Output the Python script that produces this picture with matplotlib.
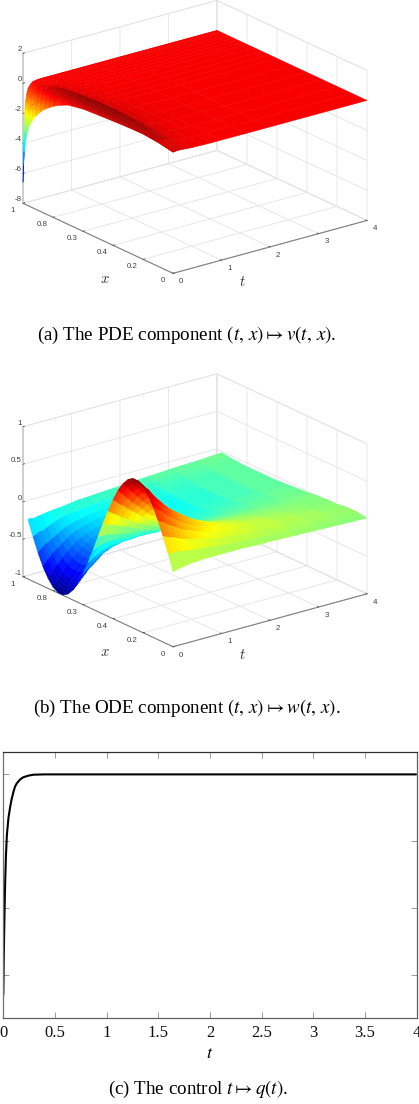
import numpy as np
import matplotlib
matplotlib.use("Agg")
import matplotlib.pyplot as plt
from matplotlib.colors import LinearSegmentedColormap
from mpl_toolkits.mplot3d import proj3d

plt.rcParams['font.family'] = ['Liberation Sans', 'DejaVu Sans']
plt.rcParams['mathtext.fontset'] = 'stix'

W, H = 419, 1104

# ---------- data ----------
t_ticks = [0, 1, 2, 3, 4]
x_ticks = [0, 0.2, 0.4, 0.6, 0.8, 1]
x_tick_labels = ['0', '0.2', '0.4', '0.3', '0.8', '1']
v_z_ticks = [-8, -6, -4, -2, 0, 2]
w_z_ticks = [-1, -0.5, 0, 0.5, 1]
w_z_labels = ['-1', '-0.5', '0', '0.5', '1']

v_t = [0, .005, .01, .015, .02, .03, .04, .05, .07, .1, .15, .2, .3, .4, .6, .8, 1, 1.5, 2, 4]
v_x = [0, .1, .2, .3, .4, .5, .6, .65, .7, .75, .8, .83, .86, .89, .92, .94, .96, .97, .98, .99, .995, 1]
v_vals = [
 [.07,.25,.35,.33,.28,.22,.15,.05,-.05,-.3,-.6,-.85,-1.1,-1.45,-1.85,-2.25,-2.7,-3.1,-3.6,-4.5,-5.3,-6.6],
 [.08,.27,.38,.37,.33,.28,.21,.12,.03,-.18,-.45,-.68,-.92,-1.22,-1.6,-1.95,-2.35,-2.7,-3.15,-3.95,-4.6,-5.5],
 [.08,.3,.41,.42,.4,.36,.29,.2,.12,-.05,-.3,-.5,-.72,-1,-1.35,-1.65,-2,-2.3,-2.7,-3.3,-3.85,-4.6],
 [.09,.33,.45,.47,.46,.43,.36,.28,.2,.05,-.17,-.35,-.56,-.82,-1.12,-1.4,-1.7,-1.95,-2.3,-2.8,-3.25,-3.8],
 [.09,.35,.48,.51,.52,.5,.43,.35,.27,.14,-.05,-.22,-.42,-.65,-.93,-1.18,-1.45,-1.67,-1.95,-2.4,-2.75,-3.1],
 [.1,.38,.53,.58,.6,.58,.52,.45,.38,.28,.12,-.02,-.2,-.4,-.63,-.85,-1.07,-1.25,-1.45,-1.8,-2.05,-2.15],
 [.1,.4,.56,.63,.66,.65,.6,.54,.47,.38,.25,.12,-.03,-.2,-.42,-.6,-.8,-.94,-1.1,-1.35,-1.55,-1.65],
 [.1,.41,.58,.67,.7,.7,.65,.6,.54,.45,.33,.22,.08,-.07,-.27,-.43,-.6,-.72,-.85,-1.05,-1.2,-1.3],
 [.1,.41,.6,.7,.75,.76,.72,.67,.62,.54,.44,.34,.22,.1,-.08,-.22,-.36,-.46,-.56,-.7,-.8,-.85],
 [.1,.4,.58,.7,.75,.78,.74,.69,.65,.58,.48,.38,.28,.17,.04,-.06,-.17,-.23,-.3,-.37,-.42,-.45],
 [.1,.35,.5,.62,.68,.72,.68,.63,.59,.53,.44,.36,.27,.17,.07,.01,-.05,-.08,-.12,-.16,-.18,-.2],
 [.09,.28,.42,.52,.58,.6,.57,.53,.49,.44,.37,.3,.23,.15,.07,.03,0,-.01,-.03,-.05,-.06,-.07],
 [.06,.18,.28,.35,.39,.4,.38,.36,.33,.29,.25,.21,.16,.11,.06,.03,.01,0,0,-.01,-.01,-.01],
 [.04,.12,.17,.22,.25,.25,.24,.23,.21,.18,.15,.13,.1,.07,.04,.02,.01,0,0,0,0,0],
 [.02,.05,.08,.1,.1,.1,.1,.09,.08,.07,.06,.05,.04,.03,.02,.01,0,0,0,0,0,0],
 [.01,.03,.05,.06,.06,.06,.06,.05,.05,.04,.03,.03,.02,.02,.01,0,0,0,0,0,0,0],
 [.01,.02,.03,.04,.05,.05,.04,.04,.03,.03,.02,.02,.01,.01,0,0,0,0,0,0,0,0],
 [0,.01,.02,.02,.02,.02,.02,.02,.01,.01,.01,.01,0,0,0,0,0,0,0,0,0,0],
 [0,0,0,0,0,0,0,0,0,0,0,0,0,0,0,0,0,0,0,0,0,0],
 [0,0,0,0,0,0,0,0,0,0,0,0,0,0,0,0,0,0,0,0,0,0],
]

w_t = [0, .03, .06, .1, .15, .2, .3, .4, .5, .6, .7, .8, .9, 1, 1.15, 1.3, 1.5, 1.75, 2, 2.5, 3, 3.5, 4]
w_x = [0, .033, .067, .1, .133, .167, .2, .233, .267, .3, .333, .367, .4, .433, .467, .5,
       .533, .567, .6, .633, .667, .7, .733, .767, .8, .833, .867, .9, .933, .967]
w_vals = [
 [0,.208,.407,.588,.743,.866,.951,.995,.995,.951,.866,.743,.588,.407,.208,0,-.208,-.407,-.588,-.743,-.866,-.951,-.995,-.995,-.951,-.866,-.743,-.588,-.407,-.208],
 [.005,.205,.4,.575,.725,.845,.925,.97,.97,.925,.84,.72,.57,.395,.2,0,-.2,-.395,-.57,-.72,-.84,-.925,-.965,-.965,-.925,-.84,-.72,-.57,-.395,-.2],
 [.01,.2,.39,.56,.705,.82,.9,.945,.945,.9,.815,.7,.555,.38,.195,0,-.195,-.385,-.555,-.7,-.815,-.895,-.935,-.935,-.895,-.815,-.7,-.555,-.39,-.205],
 [.02,.2,.38,.55,.68,.79,.87,.915,.91,.87,.79,.68,.53,.36,.18,0,-.18,-.36,-.53,-.67,-.78,-.85,-.895,-.895,-.855,-.78,-.67,-.53,-.37,-.21],
 [.025,.2,.37,.53,.66,.76,.83,.875,.87,.83,.75,.64,.5,.34,.17,0,-.17,-.34,-.5,-.64,-.75,-.82,-.855,-.855,-.82,-.74,-.64,-.5,-.36,-.21],
 [.03,.2,.36,.5,.63,.73,.8,.845,.84,.8,.71,.6,.48,.32,.16,0,-.16,-.32,-.47,-.6,-.71,-.78,-.815,-.815,-.78,-.71,-.6,-.49,-.36,-.2],
 [.04,.19,.33,.46,.57,.66,.72,.755,.75,.72,.64,.53,.42,.27,.13,-.02,-.15,-.29,-.42,-.55,-.64,-.7,-.735,-.735,-.7,-.64,-.55,-.45,-.33,-.19],
 [.05,.18,.3,.42,.52,.6,.65,.675,.67,.64,.56,.47,.37,.23,.1,-.04,-.15,-.27,-.38,-.5,-.57,-.63,-.665,-.665,-.63,-.58,-.5,-.41,-.3,-.18],
 [.05,.17,.28,.38,.47,.54,.58,.6,.59,.57,.5,.41,.32,.19,.08,-.05,-.15,-.25,-.34,-.44,-.52,-.56,-.595,-.595,-.57,-.52,-.45,-.37,-.27,-.17],
 [.06,.16,.26,.35,.42,.48,.52,.53,.52,.49,.42,.34,.26,.14,.05,-.06,-.16,-.25,-.33,-.41,-.47,-.52,-.54,-.54,-.52,-.47,-.41,-.34,-.25,-.165],
 [.06,.16,.25,.33,.39,.44,.47,.48,.47,.44,.37,.29,.21,.11,.02,-.07,-.17,-.25,-.32,-.38,-.44,-.48,-.5,-.5,-.48,-.44,-.38,-.32,-.24,-.16],
 [.06,.15,.24,.3,.36,.4,.43,.43,.41,.39,.32,.24,.17,.08,-.01,-.08,-.17,-.25,-.3,-.36,-.41,-.44,-.46,-.46,-.44,-.41,-.36,-.3,-.23,-.15],
 [.06,.14,.22,.28,.33,.36,.385,.38,.36,.34,.27,.2,.13,.05,-.03,-.09,-.18,-.25,-.29,-.34,-.385,-.415,-.435,-.435,-.415,-.385,-.34,-.29,-.22,-.14],
 [.06,.13,.2,.26,.3,.335,.34,.33,.31,.29,.23,.16,.09,.03,-.05,-.1,-.18,-.24,-.28,-.33,-.37,-.39,-.41,-.41,-.39,-.36,-.32,-.27,-.21,-.13],
 [.06,.12,.18,.23,.27,.29,.29,.27,.25,.23,.17,.11,.06,0,-.07,-.12,-.19,-.24,-.28,-.31,-.35,-.37,-.38,-.38,-.37,-.34,-.3,-.26,-.2,-.125],
 [.06,.115,.17,.215,.24,.25,.245,.23,.2,.18,.13,.08,.04,-.02,-.09,-.14,-.2,-.24,-.27,-.3,-.33,-.345,-.355,-.355,-.345,-.32,-.29,-.25,-.19,-.12],
 [.06,.11,.16,.19,.21,.205,.19,.17,.14,.12,.08,.04,0,-.05,-.11,-.15,-.19,-.23,-.26,-.28,-.3,-.315,-.32,-.32,-.31,-.29,-.27,-.23,-.18,-.11],
 [.05,.1,.14,.17,.18,.175,.16,.14,.1,.08,.05,0,-.03,-.07,-.12,-.15,-.19,-.21,-.24,-.26,-.27,-.28,-.28,-.28,-.27,-.26,-.24,-.2,-.16,-.1],
 [.05,.09,.13,.15,.15,.145,.13,.11,.08,.06,.03,-.01,-.04,-.07,-.11,-.14,-.17,-.19,-.21,-.23,-.24,-.25,-.25,-.25,-.24,-.23,-.21,-.18,-.14,-.09],
 [.04,.07,.1,.11,.11,.105,.09,.07,.05,.03,.01,-.02,-.05,-.07,-.1,-.12,-.14,-.15,-.17,-.18,-.19,-.19,-.19,-.19,-.18,-.17,-.16,-.14,-.11,-.07],
 [.03,.05,.07,.08,.08,.075,.06,.05,.03,.02,0,-.02,-.04,-.06,-.08,-.09,-.1,-.12,-.13,-.13,-.14,-.14,-.14,-.14,-.14,-.13,-.12,-.1,-.08,-.05],
 [.02,.035,.05,.05,.05,.045,.035,.02,.02,.01,0,-.02,-.03,-.04,-.05,-.06,-.07,-.08,-.09,-.09,-.09,-.09,-.09,-.09,-.09,-.085,-.08,-.07,-.055,-.04],
 [.01,.02,.03,.03,.03,.02,.01,.01,.01,0,0,-.01,-.02,-.02,-.03,-.03,-.04,-.04,-.05,-.05,-.05,-.05,-.05,-.05,-.05,-.05,-.04,-.04,-.03,-.02],
]

q_t = [0,.004,.008,.012,.016,.02,.026,.035,.05,.065,.08,.1,.113,.13,.16,.19,.24,.29,.4,.6,1,2,4]
q_v = [-6.6,-5.6,-4.8,-4.1,-3.5,-3.0,-2.4,-1.8,-1.3,-1,-.75,-.5,-.37,-.27,-.16,-.09,-.04,-.01,0,0,0,0,0]
q_xticks = [0, .5, 1, 1.5, 2, 2.5, 3, 3.5, 4]
q_xlabels = ['0', '0.5', '1', '1.5', '2', '2.5', '3', '3.5', '4']
q_yticks = [-6, -4, -2, 0]

captions = [r"(a) The PDE component $(t,\,x)\mapsto v(t,\,x)$.",
            r"(b) The ODE component $(t,\,x)\mapsto w(t,\,x)$.",
            r"(c) The control $t\mapsto q(t)$."]

# ---------- figure ----------
fig = plt.figure(figsize=(W / 100, H / 100), dpi=100)
ASPECT = (244, 247, 160.5)
GRID = '#e4e4e4'
AXC = '#808080'
TICKC = '#404040'
JET = LinearSegmentedColormap('matlab_jet', {
    'red':   [(0, 0, 0), (.375, 0, 0), (.625, 1, 1), (.875, 1, 1), (1, .5, .5)],
    'green': [(0, 0, 0), (.125, 0, 0), (.375, 1, 1), (.625, 1, 1), (.875, 0, 0), (1, 0, 0)],
    'blue':  [(0, .5, .5), (.125, 1, 1), (.375, 1, 1), (.625, 0, 0), (1, 0, 0)],
}, N=256)


def to_disp(ax, x, y, z):
    M = ax.get_proj()
    px, py, _ = proj3d.proj_transform(x, y, z, M)
    return ax.transData.transform((px, py))


def place(ax, zmin, left, right):
    """Scale and move the 3-D box so its x=1/t=0 and x=0/t=4 floor corners hit target pixels."""
    ax.set_box_aspect(ASPECT, zoom=1)
    ax.apply_aspect()
    a, b = to_disp(ax, 0, 1, zmin), to_disp(ax, 4, 0, zmin)
    ax.set_box_aspect(ASPECT, zoom=(right[0] - left[0]) / (b[0] - a[0]))
    ax.apply_aspect()
    a = to_disp(ax, 0, 1, zmin)
    pos = ax.get_position(original=True)
    dx = (left[0] - a[0]) / W
    dy = ((H - left[1]) - a[1]) / H
    ax.set_position([pos.x0 + dx, pos.y0 + dy, pos.width, pos.height])


def panel(box, t, x, z, zlim, zticks, zlabels, vmin, vmax, left, right):
    ax = fig.add_axes(box, projection='3d', proj_type='ortho')
    ax.view_init(elev=20.9, azim=-127.4)
    ax.set_xlim(0, 4, view_margin=0)
    ax.set_ylim(0, 1, view_margin=0)
    ax.set_zlim(*zlim, view_margin=0)
    T, X = np.meshgrid(t, x, indexing='ij')
    Z = np.array(z, dtype=float)
    cell = (Z[:-1, :-1] + Z[1:, :-1] + Z[:-1, 1:] + Z[1:, 1:]) / 4
    rgba = np.zeros(Z.shape + (4,))
    rgba[:-1, :-1] = JET(np.clip((cell - vmin) / (vmax - vmin), 0, 1))
    ax.plot_surface(T, X, Z, facecolors=rgba, rstride=1, cstride=1,
                    linewidth=0.35, antialiased=True, shade=False)
    ax.set_xticks(t_ticks)
    ax.set_yticks(x_ticks)
    ax.set_yticklabels(x_tick_labels)
    ax.set_zticks(zticks)
    ax.set_zticklabels(zlabels)
    ax.zaxis.set_ticks_position('upper')
    for a in (ax.xaxis, ax.yaxis, ax.zaxis):
        a.set_pane_color((1, 1, 1, 1))
        a.pane.set_edgecolor(GRID)
        a.pane.set_linewidth(0.6)
        a._axinfo['grid'].update(color=GRID, linewidth=0.6)
        a._axinfo['tick'].update(inward_factor=0.0, outward_factor=0.1)
        a._axinfo['tick']['linewidth'] = {True: 0.5, False: 0.5}
        a._axinfo['tick']['color'] = AXC
        a.line.set_color(AXC)
        a.line.set_linewidth(0.8)
    ax.zaxis.line.set_color('#c4c4c4')
    ax.zaxis.line.set_linewidth(1.1)
    ax.tick_params(axis='both', labelsize=5.7, colors=TICKC, pad=0)
    ax.tick_params(axis='z', pad=-7.5)
    for tl in ax.get_xticklabels() + ax.get_yticklabels():
        tl.set_va('bottom')
    for tl in ax.get_zticklabels():
        tl.set_va('bottom')
        tl.set_ha('right')
    place(ax, zlim[0], left, right)
    return ax


panel([0, 0.72, 0.95, 0.36], v_t, v_x, v_vals, (-8, 2), v_z_ticks,
      [str(k) for k in v_z_ticks], -6.6, 0.9, (23, 203.3), (367, 220))
panel([0, 0.38, 0.95, 0.36], w_t, w_x, w_vals, (-1, 1), w_z_ticks,
      w_z_labels, -1, 1, (23, 576.7), (367, 593.3))


def label(px, py, s, **kw):
    fig.text(px / W, 1 - py / H, s, ha='center', va='center', **kw)


for (px, py) in [(105, 279), (105, 652)]:
    label(px, py, r'$x$', fontsize=10.5, color='#333333', math_fontfamily='cm')
for (px, py) in [(242, 282), (242, 655)]:
    label(px, py, r'$t$', fontsize=10.5, color='#333333', math_fontfamily='cm')

SERIF = ['Liberation Serif', 'DejaVu Serif']
for (px, py), s in zip([(187, 335), (187, 708), (198, 1089)], captions):
    label(px, py, s, fontsize=13.65, family=SERIF)

# ---------- control ----------
axq = fig.add_axes([3.3 / W, 1 - 1018.3 / H, (416.7 - 3.3) / W, (1018.3 - 752.3) / H])
axq.plot(q_t, q_v, color='black', lw=1.5, solid_capstyle='butt')
axq.set_xlim(0, 4)
axq.set_ylim(-7.29, 0.66)
axq.set_xticks(q_xticks)
axq.set_xticklabels(q_xlabels, family=SERIF, fontsize=12, color='#111111')
axq.set_yticks(q_yticks)
axq.set_yticklabels([])
axq.tick_params(axis='both', direction='in', top=True, right=True, length=4.5,
                width=0.6, color='#8a8a8a', pad=5)
for side, c in [('left', '#707070'), ('bottom', '#606060'), ('top', '#303030'), ('right', '#606060')]:
    axq.spines[side].set_color(c)
    axq.spines[side].set_linewidth(0.9)
for tl in axq.get_xticklabels():
    tl.set_clip_on(False)
axq.set_xlabel(r'$t$', fontsize=13, labelpad=3)

fig.savefig('out.png', dpi=100)
